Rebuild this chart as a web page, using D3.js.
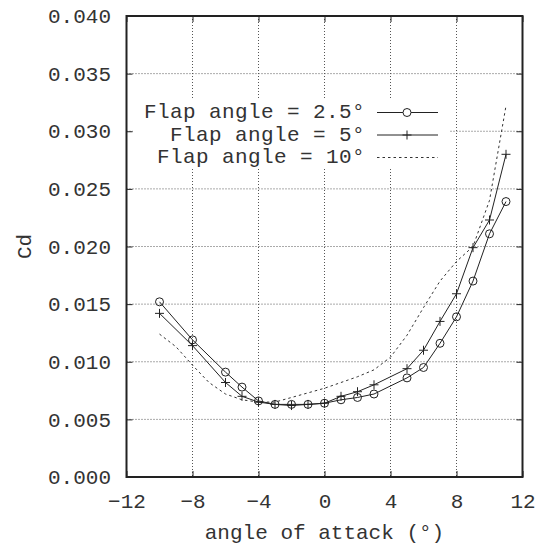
<!DOCTYPE html>
<html>
<head>
<meta charset="utf-8">
<script src="https://cdn.jsdelivr.net/npm/d3@7"></script>
<style>
  html, body { margin: 0; padding: 0; background: #fff; }
  svg text { font-family: "Liberation Mono", "DejaVu Sans Mono", monospace; fill: #333; }
</style>
</head>
<body>
<svg id="chart" width="542" height="545"></svg>
<script>
// Drag coefficient vs angle of attack for three flap deflections
const aoa = [-10, -8, -6, -5, -4, -3, -2, -1, 0, 1, 2, 3, 5, 6, 7, 8, 9, 10, 11];
const cdFlap2_5 = [0.0152, 0.0119, 0.0091, 0.0078, 0.0066, 0.0063, 0.0063, 0.0063, 0.0064, 0.0067, 0.0069, 0.0072, 0.0086, 0.0095, 0.0116, 0.0139, 0.0170, 0.0211, 0.0239];
const cdFlap5 = [0.0142, 0.0114, 0.0082, 0.0070, 0.0065, 0.0063, 0.0062, 0.0063, 0.0064, 0.0070, 0.0074, 0.0080, 0.0094, 0.0110, 0.0135, 0.0159, 0.0199, 0.0223, 0.0280];
const aoa10 = [-10, -9, -8, -7, -6, -5, -4, -3, -2, -1, 0, 1, 2, 3, 4, 5, 6, 7, 8, 9, 10, 11];
const cdFlap10 = [0.0124, 0.0113, 0.0097, 0.0082, 0.0072, 0.0067, 0.0065, 0.0065, 0.0069, 0.0073, 0.0077, 0.0082, 0.0087, 0.0093, 0.0104, 0.0123, 0.0147, 0.0170, 0.0187, 0.0200, 0.0240, 0.0322];

const xTicks = [-12, -8, -4, 0, 4, 8, 12];
const yTicks = [0, 0.005, 0.010, 0.015, 0.020, 0.025, 0.030, 0.035, 0.040];
const legendLabels = ["Flap angle = 2.5°", "Flap angle = 5°", "Flap angle = 10°"];
const xTitle = "angle of attack (°)";
const yTitle = "Cd";

const svg = d3.select("#chart");
const pLeft = 126.5, pRight = 522.5, pTop = 16, pBottom = 477;

const x = d3.scaleLinear().domain([-12, 12]).range([pLeft, pRight]);
const y = d3.scaleLinear().domain([0, 0.04]).range([pBottom, pTop]);

const ink = "#222";
const fontSize = 21;

// grid
const grid = svg.append("g");
grid.selectAll("line.gx").data(xTicks.slice(1, -1)).join("line")
  .attr("x1", d => x(d)).attr("x2", d => x(d))
  .attr("y1", pTop).attr("y2", pBottom)
  .attr("stroke", "#555").attr("stroke-width", 1).attr("stroke-dasharray", "1,2");
grid.selectAll("line.gy").data(yTicks.slice(1, -1)).join("line")
  .attr("x1", pLeft).attr("x2", pRight)
  .attr("y1", d => y(d)).attr("y2", d => y(d))
  .attr("stroke", "#555").attr("stroke-width", 1).attr("stroke-dasharray", "1,2");

// axes with inward ticks (mirrored on opposite sides)
const fmtY = d3.format(".3f");
const axB = svg.append("g").attr("transform", `translate(0,${pBottom})`)
  .call(d3.axisBottom(x).tickValues(xTicks).tickSizeInner(-6).tickSizeOuter(0).tickPadding(16));
const axT = svg.append("g").attr("transform", `translate(0,${pTop})`)
  .call(d3.axisTop(x).tickValues(xTicks).tickSizeInner(-6).tickSizeOuter(0).tickFormat(""));
const axL = svg.append("g").attr("transform", `translate(${pLeft},0)`)
  .call(d3.axisLeft(y).tickValues(yTicks).tickSizeInner(-6).tickSizeOuter(0).tickPadding(15.5).tickFormat(fmtY));
const axR = svg.append("g").attr("transform", `translate(${pRight},0)`)
  .call(d3.axisRight(y).tickValues(yTicks).tickSizeInner(-6).tickSizeOuter(0).tickFormat(""));
[axB, axT, axL, axR].forEach(g => {
  g.select(".domain").remove();
  g.selectAll(".tick line").attr("stroke", ink).attr("stroke-width", 1);
  g.selectAll(".tick text")
    .attr("font-family", "Liberation Mono, DejaVu Sans Mono, monospace")
    .attr("font-size", fontSize).attr("fill", "#333");
});
axB.selectAll(".tick text").attr("dy", "0.71em");

// frame
svg.append("rect")
  .attr("x", pLeft).attr("y", pTop)
  .attr("width", pRight - pLeft).attr("height", pBottom - pTop)
  .attr("fill", "none").attr("stroke", ink).attr("stroke-width", 2);

// axis titles
svg.append("text")
  .attr("x", (pLeft + pRight) / 2).attr("y", 538.5)
  .attr("text-anchor", "middle")
  .attr("font-size", fontSize).text(xTitle);
svg.append("text")
  .attr("transform", `translate(25,${(pTop + pBottom) / 2}) rotate(-90)`)
  .attr("text-anchor", "middle").attr("dominant-baseline", "central")
  .attr("font-size", fontSize).text(yTitle);

// legend box (opaque, hides grid behind it)
svg.append("rect")
  .attr("x", 133).attr("y", 99).attr("width", 317).attr("height", 70)
  .attr("fill", "#fff");

const line = d3.line().x(d => x(d[0])).y(d => y(d[1]));
const s25 = aoa.map((a, i) => [a, cdFlap2_5[i]]);
const s5 = aoa.map((a, i) => [a, cdFlap5[i]]);
const s10 = aoa10.map((a, i) => [a, cdFlap10[i]]);

// series lines
svg.append("path").datum(s10).attr("d", line)
  .attr("fill", "none").attr("stroke", "#333").attr("stroke-width", 1).attr("stroke-dasharray", "2.5,3");
svg.append("path").datum(s5).attr("d", line)
  .attr("fill", "none").attr("stroke", ink).attr("stroke-width", 1);
svg.append("path").datum(s25).attr("d", line)
  .attr("fill", "none").attr("stroke", ink).attr("stroke-width", 1);

// markers
const plus = (g, cx, cy) => {
  g.append("line").attr("x1", cx - 4.5).attr("x2", cx + 4.5).attr("y1", cy).attr("y2", cy)
    .attr("stroke", ink).attr("stroke-width", 1);
  g.append("line").attr("x1", cx).attr("x2", cx).attr("y1", cy - 4.5).attr("y2", cy + 4.5)
    .attr("stroke", ink).attr("stroke-width", 1);
};
const pg = svg.append("g");
s5.forEach(d => plus(pg, x(d[0]), y(d[1])));
svg.append("g").selectAll("circle").data(s25).join("circle")
  .attr("cx", d => x(d[0])).attr("cy", d => y(d[1])).attr("r", 4)
  .attr("fill", "none").attr("stroke", ink).attr("stroke-width", 1);

// legend entries
const rowsY = [112.5, 135, 157.5];
const lg = svg.append("g");
legendLabels.forEach((t, i) => {
  lg.append("text").attr("x", 365).attr("y", rowsY[i])
    .attr("text-anchor", "end").attr("dominant-baseline", "central")
    .attr("letter-spacing", 0.4)
    .attr("font-size", fontSize).text(t);
  const ln = lg.append("line").attr("x1", 377).attr("x2", 438)
    .attr("y1", rowsY[i]).attr("y2", rowsY[i])
    .attr("stroke", i === 2 ? "#333" : ink).attr("stroke-width", 1);
  if (i === 2) ln.attr("stroke-dasharray", "2.5,3");
});
lg.append("circle").attr("cx", 407).attr("cy", rowsY[0]).attr("r", 4)
  .attr("fill", "#fff").attr("stroke", ink).attr("stroke-width", 1);
plus(lg, 407, rowsY[1]);
</script>
</body>
</html>
